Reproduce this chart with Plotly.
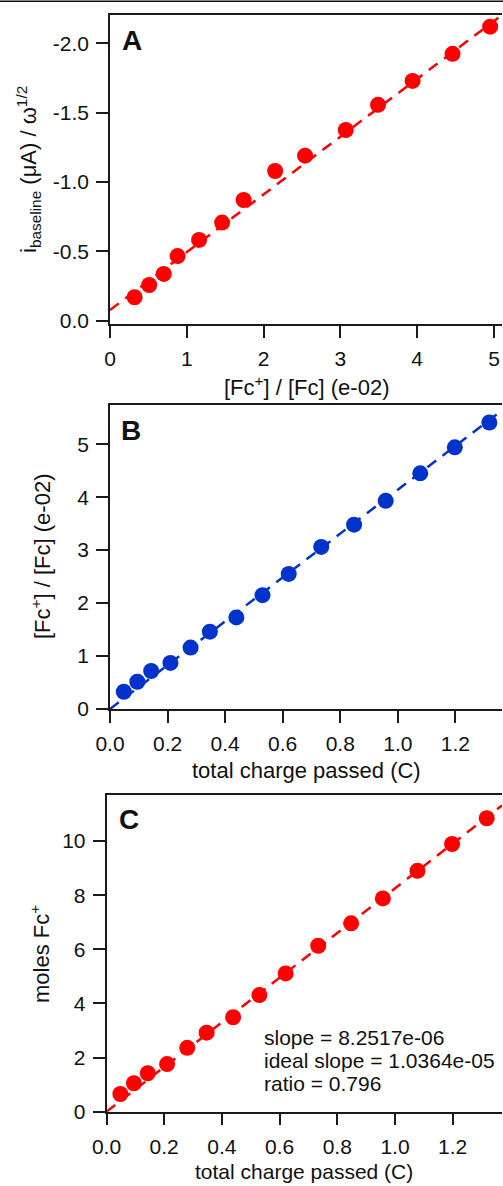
import numpy as np
import plotly.graph_objects as go

# ---- data -------------------------------------------------------------
# Panel A: baseline current (normalised) vs. ferrocenium / ferrocene ratio
ratio_a = [0.32, 0.51, 0.70, 0.88, 1.16, 1.46, 1.74, 2.15, 2.54, 3.07, 3.49, 3.94, 4.46, 4.95]
ibase_a = [-0.169, -0.257, -0.337, -0.466, -0.582, -0.707, -0.870, -1.079, -1.190,
           -1.375, -1.556, -1.729, -1.924, -2.120]
fit_a_intercept = -0.077
fit_a_slope = -0.4167

# Panels B and C share the charge axis
charge = [0.048, 0.095, 0.143, 0.210, 0.280, 0.347, 0.439, 0.530, 0.621, 0.734,
          0.848, 0.958, 1.078, 1.198, 1.318]
ratio_b = [0.326, 0.515, 0.717, 0.870, 1.160, 1.460, 1.730, 2.150, 2.550, 3.060,
           3.480, 3.930, 4.450, 4.940, 5.410]
fit_b_slope = 4.14

moles_c = [0.654, 1.05, 1.42, 1.76, 2.36, 2.92, 3.49, 4.31, 5.11, 6.13,
           6.96, 7.88, 8.90, 9.89, 10.84]
slope_c = 8.2517e-06       # mol / C
ideal_slope_c = 1.0364e-05
moles_scale = 1e-06        # y axis of panel C is in micromoles

ticks_a_y = [0.0, -0.5, -1.0, -1.5, -2.0]
ticks_a_y_text = ["0.0", "-0.5", "-1.0", "-1.5", "-2.0"]
ticks_a_x = [0, 1, 2, 3, 4, 5]
ticks_b_y = [0, 1, 2, 3, 4, 5]
ticks_charge = [0.0, 0.2, 0.4, 0.6, 0.8, 1.0, 1.2]
ticks_c_y = [0, 2, 4, 6, 8, 10]

RED = "#ff0000"
BLUE = "#0033cc"
FONT = "Liberation Sans, Arial, sans-serif"
W, H = 503, 1186

range_a_x = [0, 5.104]
range_a_y = [0.024, -2.204]
range_b_x = [0, 1.362]
range_b_y = [0, 5.74]
range_c_x = [0, 1.371]
range_c_y = [0, 11.7]


def px_x(p):
    return p / W


def px_y(p):
    return 1 - p / H


fig = go.Figure()


def add_panel(n, x, y, color, slope, intercept, xr):
    xa = "x" if n == 1 else f"x{n}"
    ya = "y" if n == 1 else f"y{n}"
    xl = np.array([xr[0], xr[1]])
    fig.add_trace(go.Scatter(x=xl, y=intercept + slope * xl, mode="lines",
                             line=dict(color=color, width=2.5, dash="11px,8px"),
                             xaxis=xa, yaxis=ya, hoverinfo="skip"))
    fig.add_trace(go.Scatter(x=x, y=y, mode="markers",
                             marker=dict(color=color, size=16, line=dict(width=0)),
                             xaxis=xa, yaxis=ya))


add_panel(1, ratio_a, ibase_a, RED, fit_a_slope, fit_a_intercept, range_a_x)
add_panel(2, charge, ratio_b, BLUE, fit_b_slope, 0.0, range_b_x)
add_panel(3, charge, moles_c, RED, slope_c / moles_scale, 0.0, range_c_x)

axis_common = dict(showline=True, linecolor="#1a1a1a", linewidth=1.5,
                   ticks="outside", ticklen=12, tickwidth=1.5, tickcolor="#1a1a1a",
                   showgrid=False, zeroline=False, automargin=False,
                   tickfont=dict(family=FONT, size=21, color="#111"))

fig.update_layout(
    width=W, height=H, margin=dict(l=0, r=0, t=0, b=0),
    paper_bgcolor="white", plot_bgcolor="white", showlegend=False,
    template="none",
    xaxis=dict(axis_common, domain=[px_x(110), px_x(502)], range=range_a_x,
               tickvals=ticks_a_x, anchor="y", mirror=True, ticklabelstandoff=3),
    yaxis=dict(axis_common, domain=[px_y(324), px_y(15)], range=range_a_y,
               tickvals=ticks_a_y, ticktext=ticks_a_y_text, anchor="x",
               ticklabelstandoff=3),
    xaxis2=dict(axis_common, domain=[px_x(110), px_x(502)], range=range_b_x,
                tickvals=ticks_charge, tickformat=".1f", anchor="y2", mirror=True,
                ticklabelstandoff=3),
    yaxis2=dict(axis_common, domain=[px_y(709), px_y(405)], range=range_b_y,
                tickvals=ticks_b_y, anchor="x2", ticklabelstandoff=3),
    xaxis3=dict(axis_common, domain=[px_x(106.5), px_x(502)], range=range_c_x,
                tickvals=ticks_charge, tickformat=".1f", anchor="y3", mirror=True,
                ticklabelstandoff=3),
    yaxis3=dict(axis_common, domain=[px_y(1111.7), px_y(795)], range=range_c_y,
                tickvals=ticks_c_y, anchor="x3", ticklabelstandoff=3),
)

# thin rule across the top of the figure
fig.add_shape(type="line", xref="paper", yref="paper", x0=0, x1=1,
              y0=px_y(1.2), y1=px_y(1.2), line=dict(color="#111", width=1.5))


def note(text, x, y, size=22, angle=0, xanchor="center", bold=False):
    fig.add_annotation(text=f"<b>{text}</b>" if bold else text,
                       x=px_x(x), y=px_y(y), xref="paper", yref="paper",
                       showarrow=False, textangle=angle, xanchor=xanchor,
                       yanchor="middle",
                       font=dict(family=FONT, size=size, color="#111"))


# panel letters
note("A", 120, 41, size=28, xanchor="left", bold=True)
note("B", 119, 430, size=28, xanchor="left", bold=True)
note("C", 117, 819, size=28, xanchor="left", bold=True)

# axis titles
note("[Fc<sup>+</sup>] / [Fc] (e-02)", 306, 386)
note("i<sub>baseline</sub> (μA) / ω<sup>1/2</sup>", 28, 170, angle=-90)
note("total charge passed (C)", 306, 770)
note("[Fc<sup>+</sup>] / [Fc] (e-02)", 41, 557, angle=-90)
note("total charge passed (C)", 304, 1171, size=21)
note("moles Fc<sup>+</sup>", 40, 954, angle=-90)

# fit summary for panel C
fit_lines = [f"slope = {slope_c:.4e}",
             f"ideal slope = {ideal_slope_c:.4e}",
             f"ratio = {slope_c / ideal_slope_c:.3f}"]
for i, line in enumerate(fit_lines):
    note(line, 262, 1037 + 23 * i, size=21, xanchor="left")

fig.write_html("out.html")
